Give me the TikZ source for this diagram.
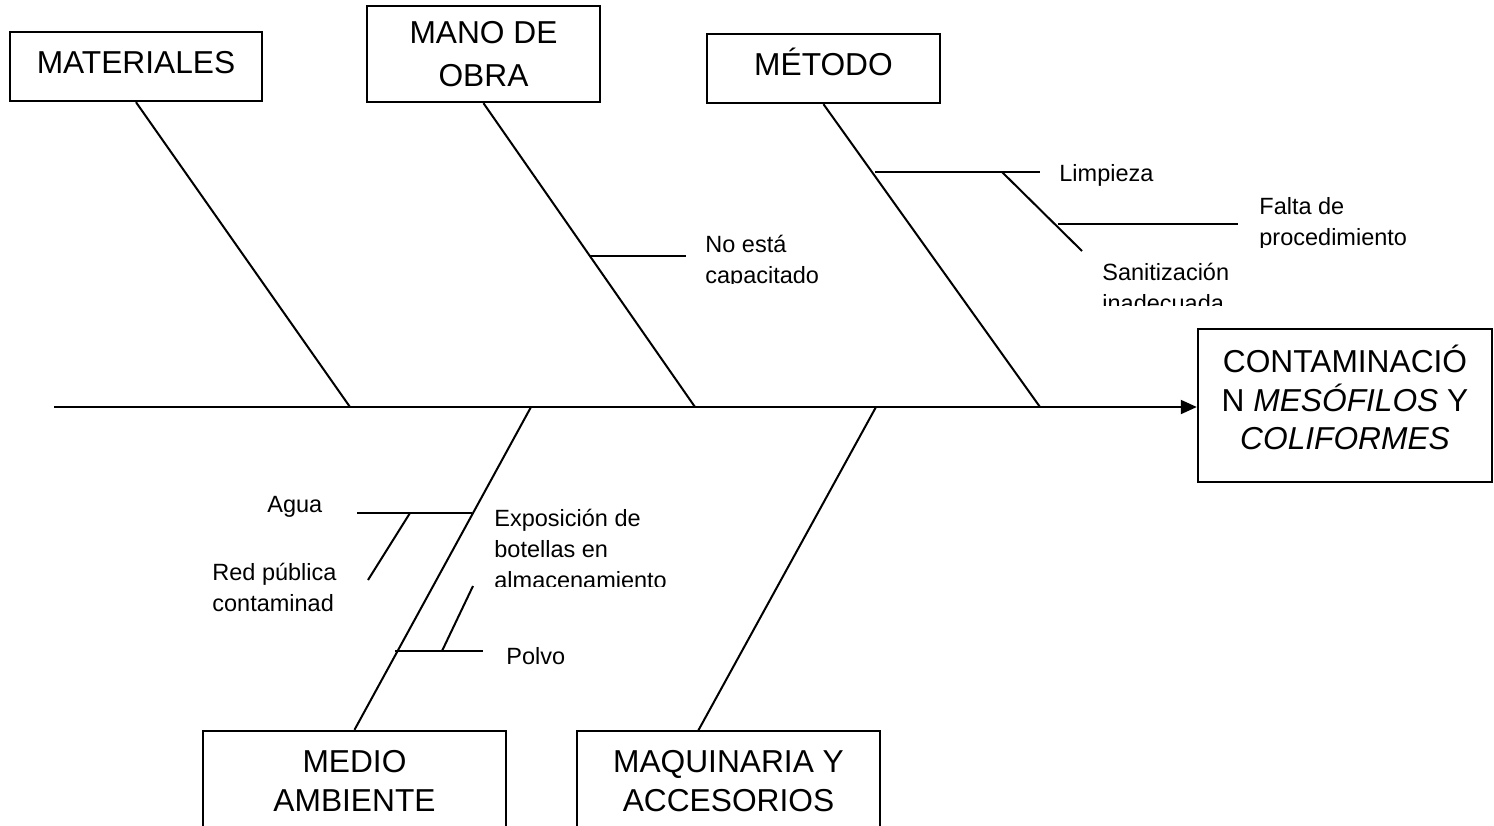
\documentclass[tikz,border=0pt]{standalone}
\usepackage{fontspec}
\setmainfont{Liberation Sans}
\usetikzlibrary{positioning,arrows.meta,calc}

\tikzset{
  caja/.style={draw, line width=1.2pt, inner sep=0pt, align=center,
    font=\fontsize{15.85}{21.5}\selectfont},
  causa/.style={inner sep=0pt, anchor=base west, align=left,
    font=\fontsize{11.75}{15.5}\selectfont},
  hueso/.style={line width=1pt},
}

\begin{document}
\begin{tikzpicture}[x=0.5pt,y=-0.5pt]
  \useasboundingbox (0,0) rectangle (1494,825);
  \clip (0,0) rectangle (1494,825);

  % categorias
  \node[caja, minimum width=126pt, minimum height=34.5pt, text depth=4pt] (mat) at (136,66.5) {MATERIALES};
  \node[caja, minimum width=116.5pt, minimum height=48pt] (mano) at (483.5,54) {MANO DE\\OBRA};
  \node[caja, minimum width=116.5pt, minimum height=34.5pt, text depth=7pt] (metodo) at (823.5,68.5) {MÉTODO};
  \node[caja, minimum width=151.5pt, minimum height=50pt,
    font=\fontsize{15.85}{19.5}\selectfont] (medio) at (354.5,781) {MEDIO\\AMBIENTE};
  \node[caja, minimum width=151.5pt, minimum height=50pt,
    font=\fontsize{15.85}{19.5}\selectfont] (maq) at (728.5,781) {MAQUINARIA Y\\ACCESORIOS};
  \node[caja, minimum width=147pt, minimum height=76.5pt, text depth=8pt,
    font=\fontsize{15.85}{19.25}\selectfont] (efecto) at (1345,405.5)
    {CONTAMINACIÓ\\N \textit{MESÓFILOS} Y\\\textit{COLIFORMES}};

  % espina
  \coordinate (cola) at (54,407);
  \draw[hueso, -{Triangle[length=8pt,width=7pt]}] (cola) -- (cola -| efecto.west);

  % huesos
  \coordinate (e1) at (350,407);
  \coordinate (e2) at (695,407);
  \coordinate (e3) at (1040,407);
  \coordinate (e4) at (531,407);
  \coordinate (e5) at (876,407);
  \coordinate (maqT) at (698,731);
  \draw[hueso] (mat.south) -- (e1);
  \draw[hueso] (mano.south) -- (e2);
  \draw[hueso] (metodo.south) -- (e3);
  \draw[hueso] (e4) -- (medio.north);
  \draw[hueso] (e5) -- (maqT);

  % mano de obra
  \coordinate (c1) at (590,256);
  \coordinate (c1f) at (686,256);
  \draw[hueso] (c1) -- (c1f);
  \begin{scope}
    \clip (690,220) rectangle (860,283);
    \node[causa] (capacitado) at (705,283) {No está\\capacitado};
  \end{scope}

  % metodo
  \coordinate (l1) at (875,172);
  \coordinate (l1f) at (1040,172);
  \coordinate (l2) at (1002,172);
  \coordinate (l2f) at (1082,251);
  \coordinate (l3) at (1058,224);
  \coordinate (l3f) at (1238,224);
  \draw[hueso] (l1) -- (l1f);
  \draw[hueso] (l2) -- (l2f);
  \draw[hueso] (l3) -- (l3f);
  \node[causa] (limpieza) at (1059,181) {Limpieza};
  \begin{scope}
    \clip (1240,190) rectangle (1494,247);
    \node[causa] (falta) at (1259,245) {Falta de\\procedimiento};
  \end{scope}
  \begin{scope}
    \clip (1090,250) rectangle (1260,305);
    \node[causa] (sanit) at (1102,311) {Sanitización\\inadecuada};
  \end{scope}

  % medio ambiente
  \coordinate (a1) at (357,513);
  \coordinate (a1f) at (472,513);
  \coordinate (a2) at (410,513);
  \coordinate (a2f) at (368,580);
  \coordinate (p1) at (395,651);
  \coordinate (p1f) at (483,651);
  \coordinate (p2) at (442,651);
  \coordinate (p2f) at (473,586);
  \draw[hueso] (a1) -- (a1f);
  \draw[hueso] (a2) -- (a2f);
  \draw[hueso] (p1) -- (p1f);
  \draw[hueso] (p2) -- (p2f);
  \node[causa] (agua) at (267,512) {Agua};
  \node[causa] (red) at (212,611) {Red pública\\contaminad};
  \begin{scope}
    \clip (485,495) rectangle (690,586);
    \node[causa] (expo) at (494,588) {Exposición de\\botellas en\\almacenamiento};
  \end{scope}
  \node[causa] (polvo) at (506,664) {Polvo};
\end{tikzpicture}
\end{document}
